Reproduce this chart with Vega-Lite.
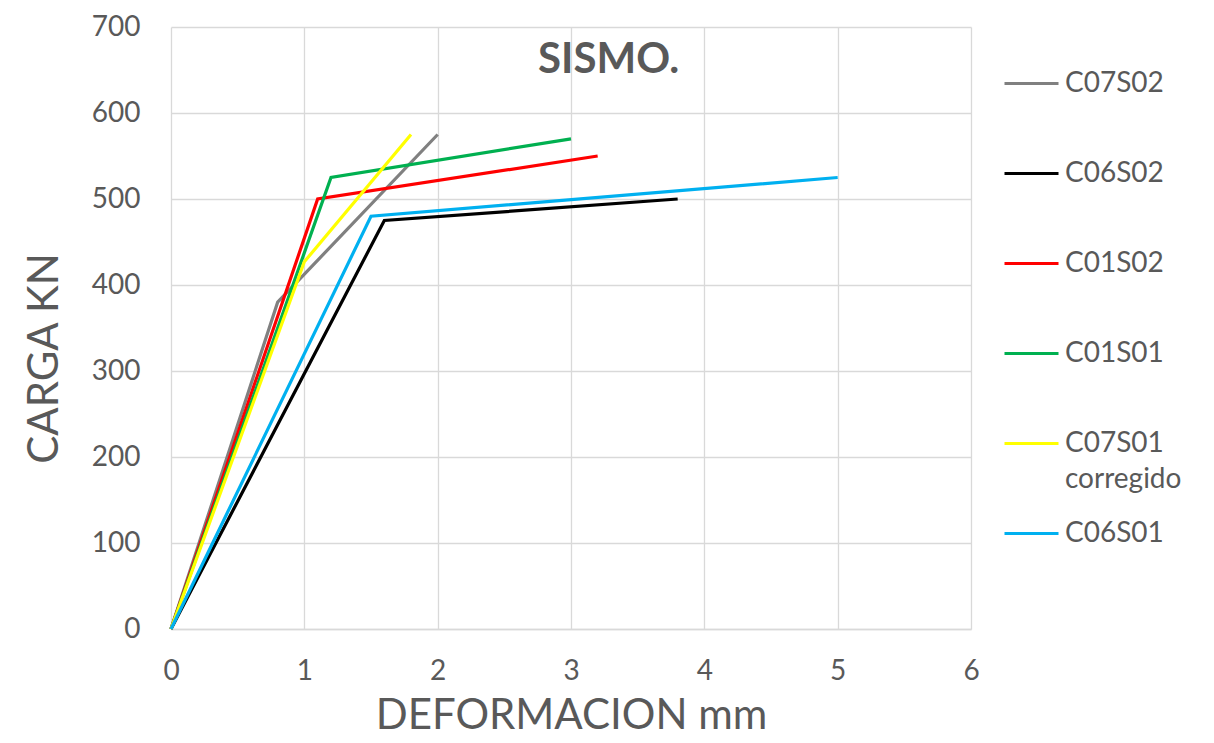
{
  "$schema": "https://vega.github.io/schema/vega-lite/v6.json",
  "width": 800,
  "height": 602,
  "autosize": {"type": "none"},
  "padding": {"left": 171, "top": 27, "right": 243, "bottom": 114},
  "background": "white",
  "config": {
    "view": {"stroke": null},
    "font": "Lato",
    "axis": {
      "gridColor": "#D9D9D9",
      "gridWidth": 1.3,
      "domainColor": "#D9D9D9",
      "domainWidth": 1.3,
      "ticks": false,
      "labelFlush": false,
      "labelFont": "Lato",
      "labelFontSize": 28,
      "labelColor": "#595959",
      "titleFont": "Lato",
      "titleFontSize": 42,
      "titleFontWeight": "normal",
      "titleColor": "#595959"
    }
  },
  "title": {
    "text": "SISMO.",
    "font": "Lato",
    "fontSize": 42,
    "fontWeight": "bold",
    "color": "#595959",
    "anchor": "start",
    "frame": "group",
    "dx": 367,
    "dy": 53,
    "baseline": "top",
    "offset": -16
  },
  "data": {
    "values": [
      {"serie": "C07S02", "def": 0, "carga": 0},
      {"serie": "C07S02", "def": 0.8, "carga": 380},
      {"serie": "C07S02", "def": 2.0, "carga": 575},
      {"serie": "C06S02", "def": 0, "carga": 0},
      {"serie": "C06S02", "def": 1.6, "carga": 475},
      {"serie": "C06S02", "def": 3.8, "carga": 500},
      {"serie": "C01S02", "def": 0, "carga": 0},
      {"serie": "C01S02", "def": 1.1, "carga": 500},
      {"serie": "C01S02", "def": 3.2, "carga": 550},
      {"serie": "C01S01", "def": 0, "carga": 0},
      {"serie": "C01S01", "def": 1.2, "carga": 525},
      {"serie": "C01S01", "def": 3.0, "carga": 570},
      {"serie": "C07S01 corregido", "def": 0, "carga": 0},
      {"serie": "C07S01 corregido", "def": 1.0, "carga": 427},
      {"serie": "C07S01 corregido", "def": 1.8, "carga": 575},
      {"serie": "C06S01", "def": 0, "carga": 0},
      {"serie": "C06S01", "def": 1.5, "carga": 480},
      {"serie": "C06S01", "def": 5.0, "carga": 525}
    ]
  },
  "mark": {"type": "line", "strokeWidth": 3.2},
  "encoding": {
    "x": {
      "field": "def",
      "type": "quantitative",
      "scale": {"domain": [0, 6], "nice": false},
      "axis": {
        "values": [0, 1, 2, 3, 4, 5, 6],
        "title": "DEFORMACION mm",
        "labelPadding": 28,
        "titleBaseline": "alphabetic",
        "titleY": 99
      }
    },
    "y": {
      "field": "carga",
      "type": "quantitative",
      "scale": {"domain": [0, 700], "nice": false},
      "axis": {
        "values": [0, 100, 200, 300, 400, 500, 600, 700],
        "title": "CARGA KN",
        "domain": false,
        "labelPadding": 31,
        "titleAngle": -90,
        "titleBaseline": "middle",
        "titleAlign": "center",
        "titleX": -127,
        "titleY": 331
      }
    },
    "color": {
      "field": "serie",
      "type": "nominal",
      "scale": {
        "domain": ["C07S02", "C06S02", "C01S02", "C01S01", "C07S01 corregido", "C06S01"],
        "range": ["#808080", "#000000", "#FF0000", "#00B050", "#FFFF00", "#00B0F0"]
      },
      "legend": {
        "title": null,
        "orient": "none",
        "legendX": 832,
        "legendY": 28,
        "padding": 0,
        "gridAlign": "all",
        "symbolType": "stroke",
        "symbolSize": 2916,
        "symbolStrokeWidth": 3,
        "labelFont": "Lato",
        "labelFontSize": 28,
        "labelColor": "#595959",
        "labelOffset": 5,
        "labelLimit": 300,
        "rowPadding": 11,
        "labelExpr": "datum.label == 'C07S01 corregido' ? ['C07S01', 'corregido'] : datum.label",
        "encode": {"labels": {"update": {"lineHeight": {"value": 36}}}}
      }
    }
  }
}
